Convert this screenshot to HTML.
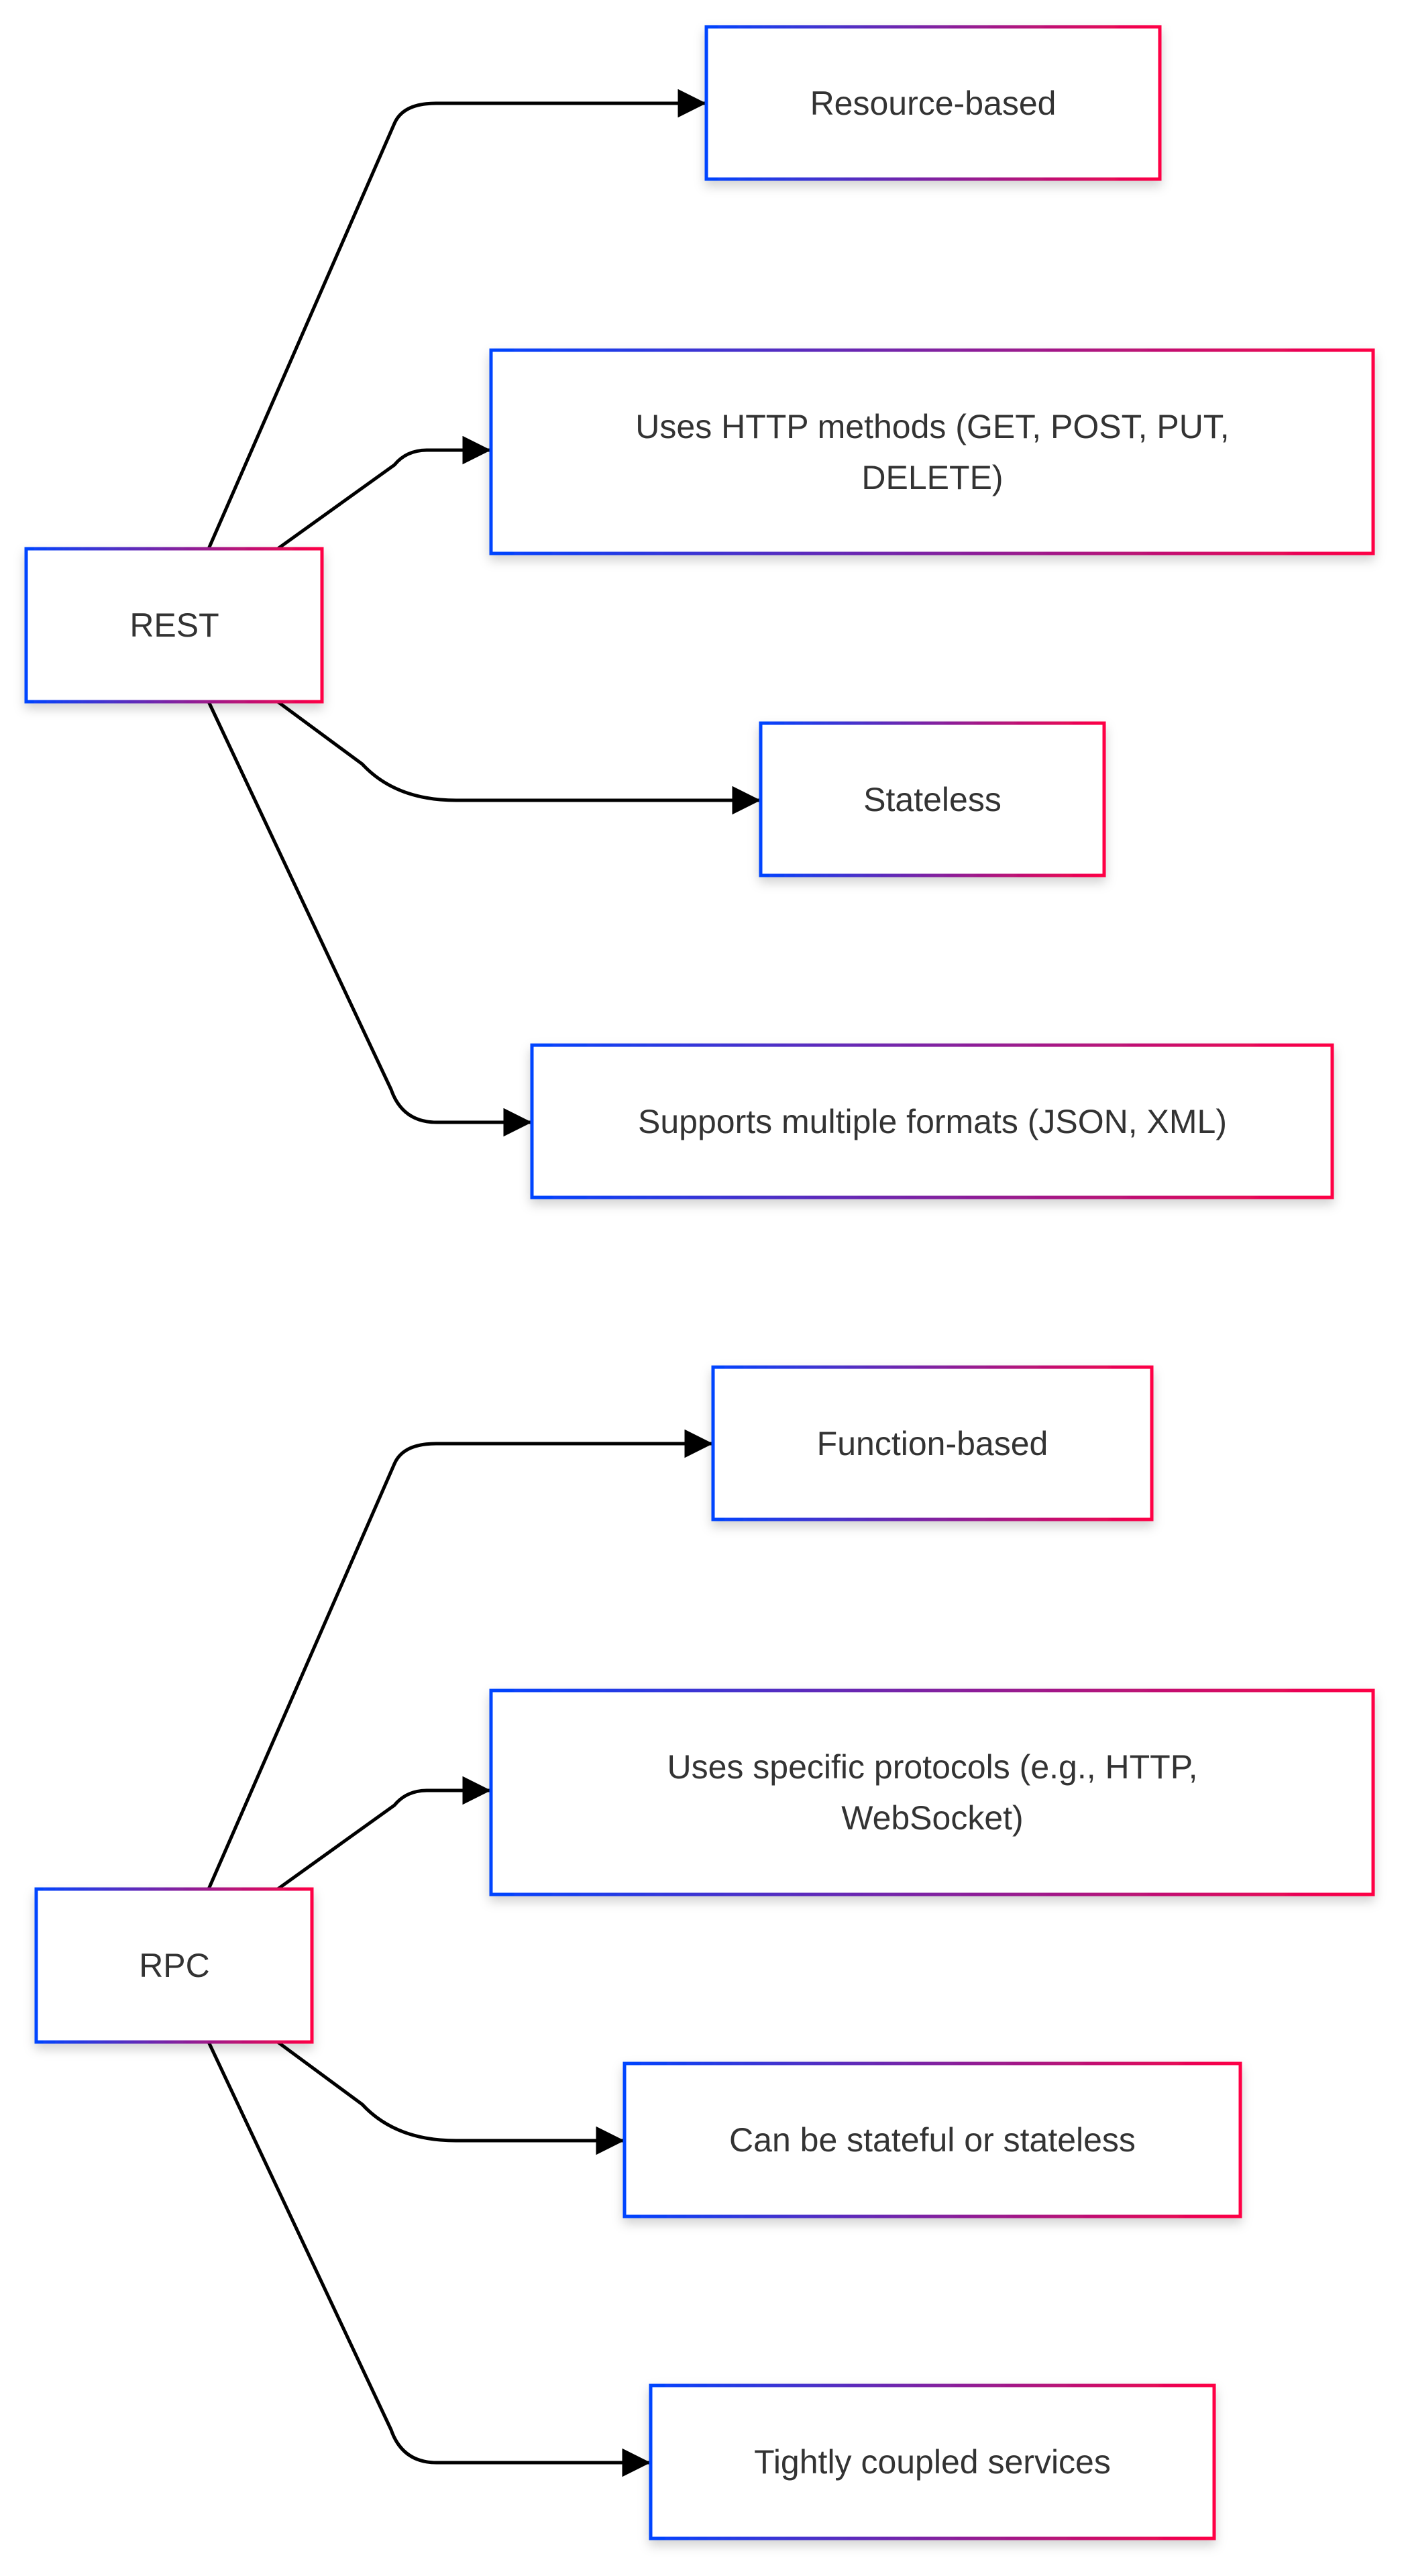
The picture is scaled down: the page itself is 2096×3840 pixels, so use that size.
<!DOCTYPE html>
<html><head><meta charset="utf-8"><style>
html,body{margin:0;padding:0;background:#fff;}
svg{display:block;}
text{font-family:"Liberation Sans",Arial,sans-serif;font-size:50px;fill:#333;text-anchor:middle;dominant-baseline:central;}
</style></head><body>
<svg width="2096" height="3840" viewBox="0 0 2096 3840" xmlns="http://www.w3.org/2000/svg">
<defs>
<linearGradient id="g" x1="0" y1="0" x2="1" y2="0"><stop offset="0" stop-color="#0044ff"/><stop offset="1" stop-color="#ff0044"/></linearGradient>
<filter id="sh" x="-10%" y="-10%" width="120%" height="130%"><feDropShadow dx="0" dy="8" stdDeviation="8" flood-color="#000" flood-opacity="0.18"/></filter>
<marker id="a" viewBox="0 0 10 10" refX="10" refY="5" markerWidth="8.5" markerHeight="8.5" markerUnits="strokeWidth" orient="auto"><path d="M0,0 L10,5 L0,10 z" fill="#000"/></marker>
</defs>
<g fill="none" stroke="#000" stroke-width="5" marker-end="url(#a)">
<path d="M311 818 L588 184 Q601 154 650 154 L1053 154"/>
<path d="M414 818 L588 693 Q606 671 637 671 L732 671"/>
<path d="M414 1046 L540 1139 Q590 1193 680 1193 L1134 1193"/>
<path d="M311 1046 L583 1624 Q600 1673 651 1673 L793 1673"/>
<path d="M311 2816 L588 2182 Q601 2152 650 2152 L1063 2152"/>
<path d="M414 2816 L588 2691 Q606 2669 637 2669 L732 2669"/>
<path d="M414 3044 L540 3137 Q590 3191 680 3191 L931 3191"/>
<path d="M311 3044 L583 3622 Q600 3671 651 3671 L970 3671"/>
</g>
<g fill="#fff" stroke="url(#g)" stroke-width="5" filter="url(#sh)">
<rect x="1053" y="40" width="676" height="227"/>
<rect x="732" y="522" width="1315" height="303"/>
<rect x="39" y="818" width="441" height="228"/>
<rect x="1134" y="1078" width="512" height="227"/>
<rect x="793" y="1558" width="1193" height="227"/>
<rect x="1063" y="2038" width="654" height="227"/>
<rect x="732" y="2520" width="1315" height="304"/>
<rect x="54" y="2816" width="411" height="228"/>
<rect x="931" y="3076" width="918" height="228"/>
<rect x="970" y="3556" width="840" height="228"/>
</g>
<text x="1391" y="154">Resource-based</text>
<text x="1390" y="636">Uses HTTP methods (GET, POST, PUT,</text>
<text x="1390" y="712">DELETE)</text>
<text x="260" y="932">REST</text>
<text x="1390" y="1192">Stateless</text>
<text x="1390" y="1672">Supports multiple formats (JSON, XML)</text>
<text x="1390" y="2152">Function-based</text>
<text x="1390" y="2634">Uses specific protocols (e.g., HTTP,</text>
<text x="1390" y="2710">WebSocket)</text>
<text x="260" y="2930">RPC</text>
<text x="1390" y="3190">Can be stateful or stateless</text>
<text x="1390" y="3670">Tightly coupled services</text>
</svg>
</body></html>
